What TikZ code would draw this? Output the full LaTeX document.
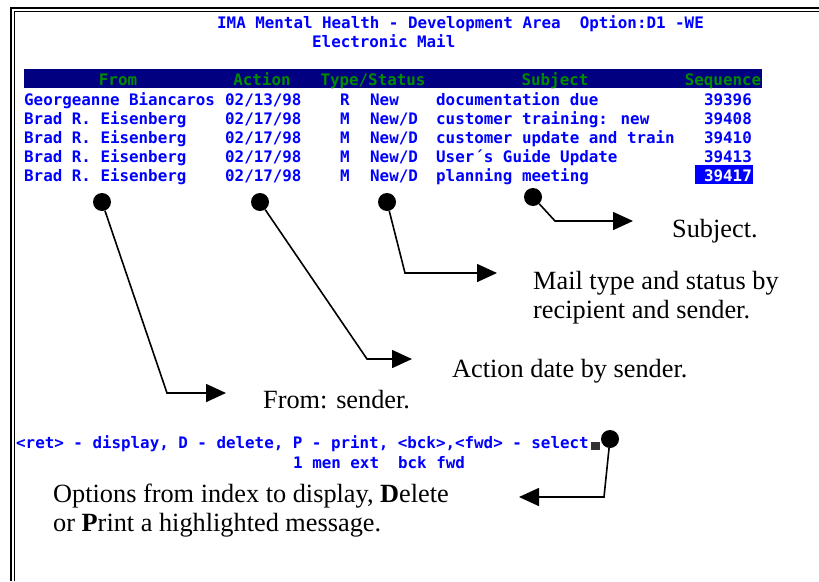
\documentclass[tikz,border=0pt]{standalone}
\usepackage{fontspec}
\setmainfont{Liberation Serif}
\newfontfamily\scr{DejaVu Sans Mono}
\usetikzlibrary{arrows.meta}
\definecolor{scrblue}{RGB}{0,0,255}
\definecolor{navy}{RGB}{0,0,128}
\definecolor{hdrgreen}{RGB}{0,140,0}
\definecolor{curgray}{RGB}{50,50,50}
\tikzset{
  scr/.style={font=\scr\bfseries\fontsize{15.85}{18}\selectfont, text=scrblue, inner sep=0pt, anchor=base west},
  scrr/.style={scr, anchor=base east},
  hdr/.style={font=\scr\bfseries\fontsize{15.85}{18}\selectfont, text=hdrgreen, inner sep=0pt, anchor=base},
  lbl/.style={font=\fontsize{26.3}{29.5}\selectfont, inner sep=0pt, anchor=base west},
  dot/.style={circle, fill=black, minimum size=18pt, inner sep=0pt},
  arr/.style={line width=1.6pt, -{Triangle[length=20pt,width=18pt]}},
  frame/.style={line width=2.6pt},
  framein/.style={line width=1.2pt}
}
\begin{document}
\begin{tikzpicture}[x=1pt,y=-1pt]
\useasboundingbox (0,0) rectangle (819,581);
% frame
\draw[frame] (11,581) -- (11,8) -- (819,8);
\draw[framein] (14.5,581) -- (14.5,11.5) -- (819,11.5);
% title
\node[scr] (t1) at (217,28) {IMA Mental Health - Development Area\ \ Option:D1 -WE};
\node[scr] (t2) at (312,47) {Electronic Mail};
% header bar
\node[fill=navy, minimum width=738pt, minimum height=19pt, inner sep=0pt, anchor=north west] (bar) at (24,69) {};
\node[hdr] (hFrom) at (118,85) {From};
\node[hdr] (hAct) at (262,85) {Action};
\node[hdr] (hType) at (373,85) {Type/Status};
\node[hdr] (hSubj) at (555,85) {Subject};
\node[hdr] (hSeq) at (723,85) {Sequence};
% rows
\node[scr] (r1a) at (24,105) {Georgeanne Biancaros};
\node[scr] (r1b) at (225,105) {02/13/98};
\node[scr] (r1c) at (340,105) {R};
\node[scr] (r1d) at (370,105) {New};
\node[scr] (r1e) at (436,105) {documentation due};
\node[scrr] (r1f) at (752,105) {39396};
\node[scr] (r2a) at (24,124) {Brad R. Eisenberg};
\node[scr] (r2b) at (225,124) {02/17/98};
\node[scr] (r2c) at (340,124) {M};
\node[scr] (r2d) at (370,124) {New/D};
\node[scr] (r2e) at (436,124) {customer training: new};
\node[scrr] (r2f) at (752,124) {39408};
\node[scr] (r3a) at (24,143) {Brad R. Eisenberg};
\node[scr] (r3b) at (225,143) {02/17/98};
\node[scr] (r3c) at (340,143) {M};
\node[scr] (r3d) at (370,143) {New/D};
\node[scr] (r3e) at (436,143) {customer update and train};
\node[scrr] (r3f) at (752,143) {39410};
\node[scr] (r4a) at (24,162) {Brad R. Eisenberg};
\node[scr] (r4b) at (225,162) {02/17/98};
\node[scr] (r4c) at (340,162) {M};
\node[scr] (r4d) at (370,162) {New/D};
\node[scr] (r4e) at (436,162) {User´s Guide Update};
\node[scrr] (r4f) at (752,162) {39413};
\node[scr] (r5a) at (24,181) {Brad R. Eisenberg};
\node[scr] (r5b) at (225,181) {02/17/98};
\node[scr] (r5c) at (340,181) {M};
\node[scr] (r5d) at (370,181) {New/D};
\node[scr] (r5e) at (436,181) {planning meeting};
\node[fill=scrblue, minimum width=58pt, minimum height=19pt, inner sep=0pt, anchor=north west] (hl) at (695,165) {};
\node[scrr, text=white] (r5f) at (752,181) {39417};
% bottom command lines
\node[scr] (cmd1) at (16,448) {<ret> - display, D - delete, P - print, <bck>,<fwd> - select};
\node[fill=curgray, minimum width=9pt, minimum height=8pt, inner sep=0pt, anchor=north west] (cur) at (591,442) {};
\node[scr] (cmd2) at (293,468) {1 men ext\ \ bck fwd};
% labels
\node[lbl] (lS) at (672,237) {Subject.};
\node[lbl] (lT1) at (533,289) {Mail type and status by};
\node[lbl] (lT2) at (533,318) {recipient and sender.};
\node[lbl] (lA) at (452,377) {Action date by sender.};
\node[lbl] (lF) at (263,408) {From: sender.};
\node[lbl] (lO1) at (53,502) {Options from index to display, \textbf{D}elete};
\node[lbl] (lO2) at (53,531) {or \textbf{P}rint a highlighted message.};
% dots
\node[dot] (dF) at (102,202) {};
\node[dot] (dA) at (260,202) {};
\node[dot] (dT) at (387,202) {};
\node[dot] (dS) at (533,197) {};
\node[dot] (dO) at (610,439) {};
% corners and tips
\coordinate (cF) at (167,393); \coordinate (tF) at (226,393);
\coordinate (cA) at (367,359); \coordinate (tA) at (412,359);
\coordinate (cT) at (405,273); \coordinate (tT) at (497,273);
\coordinate (cS) at (555,221); \coordinate (tS) at (633,221);
\coordinate (cO) at (604,497); \coordinate (tO) at (519,497);
\draw[arr] (dF) -- (cF) -- (tF);
\draw[arr] (dA) -- (cA) -- (tA);
\draw[arr] (dT) -- (cT) -- (tT);
\draw[arr] (dS) -- (cS) -- (tS);
\draw[arr] (dO) -- (cO) -- (tO);
\end{tikzpicture}
\end{document}
